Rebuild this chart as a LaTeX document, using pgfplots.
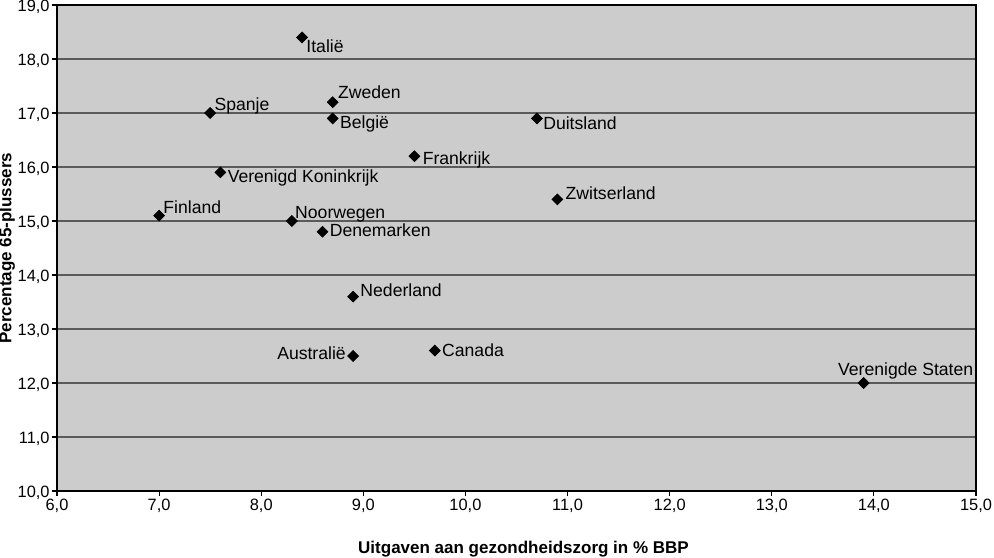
\documentclass[border=0pt]{standalone}
\usepackage{fontspec}
\setmainfont{Liberation Sans}
\usepackage{pgfplots}
\pgfplotsset{compat=1.18}
\definecolor{bggray}{HTML}{CCCCCC}
\definecolor{gridgray}{HTML}{5A5A5A}
\begin{document}
\begin{tikzpicture}
\begin{axis}[
  scale only axis, width=459.5bp, height=243bp,
  xmin=6, xmax=15, ymin=10, ymax=19,
  xtick={6,7,...,15}, ytick={10,11,...,19},
  axis background/.style={fill=bggray},
  ymajorgrids, grid style={color=gridgray, line width=0.7bp},
  axis line style={black, line width=1.1bp},
  tick style={black, line width=0.6bp},
  tick align=outside, major tick length=2.5bp, tick pos=left,
  ticklabel style={font=\fontsize{8.2bp}{10bp}\selectfont, inner sep=1pt},
  xlabel={Uitgaven aan gezondheidszorg in \% BBP},
  ylabel={Percentage 65-plussers},
  label style={font=\bfseries\fontsize{8.5bp}{10bp}\selectfont},
  xlabel style={at={(axis description cs:0.5,0)}, anchor=center, yshift=-29bp, xshift=3.5bp},
  ylabel style={at={(axis description cs:0,0.5)}, anchor=center, yshift=25bp},
  xticklabel style={yshift=-0.5bp, /pgf/number format/.cd, fixed, fixed zerofill, precision=1, use comma, assume math mode=true},
  yticklabel style={yshift=-1bp, /pgf/number format/.cd, fixed, fixed zerofill, precision=1, use comma, assume math mode=true},
]
\addplot[only marks, mark=square*, mark size=1.9bp,
  mark options={rotate=45, fill=black, draw=black},
  point meta=explicit symbolic,
  nodes near coords,
  visualization depends on={value \thisrow{anc} \as \labanc},
  visualization depends on={value \thisrow{dx} \as \labdx},
  visualization depends on={value \thisrow{dy} \as \labdy},
  every node near coord/.append style={anchor=\labanc, xshift=\labdx pt, yshift=\labdy pt,
    font=\fontsize{8.8bp}{10bp}\selectfont, inner sep=0pt, text=black},
] table[col sep=comma, x=x, y=y, meta=label]{
x,y,anc,dx,dy,label
8.4,18.4,base west,2,-7.5,Italië
8.7,17.2,base west,2.5,2,Zweden
8.7,16.9,base west,3.5,-5,België
7.5,17.0,base west,2,1.5,Spanje
10.7,16.9,base west,3,-5.5,Duitsland
9.5,16.2,base west,4,-4,Frankrijk
7.6,15.9,base west,3.5,-5,Verenigd Koninkrijk
10.9,15.4,base west,4,0,Zwitserland
7.0,15.1,base west,2,1,Finland
8.3,15.0,base west,1.5,1.5,Noorwegen
8.6,14.8,base west,3.5,-2.5,Denemarken
8.9,13.6,base west,3.5,0,Nederland
8.9,12.5,base east,-3.5,-2,Australië
9.7,12.6,base west,3.5,-3,Canada
13.9,12.0,base west,-13,4,Verenigde Staten
};
\end{axis}
\pgfresetboundingbox
\useasboundingbox (-28.5bp,-33.5bp) rectangle (468.5bp,245.5bp);
\end{tikzpicture}
\end{document}
